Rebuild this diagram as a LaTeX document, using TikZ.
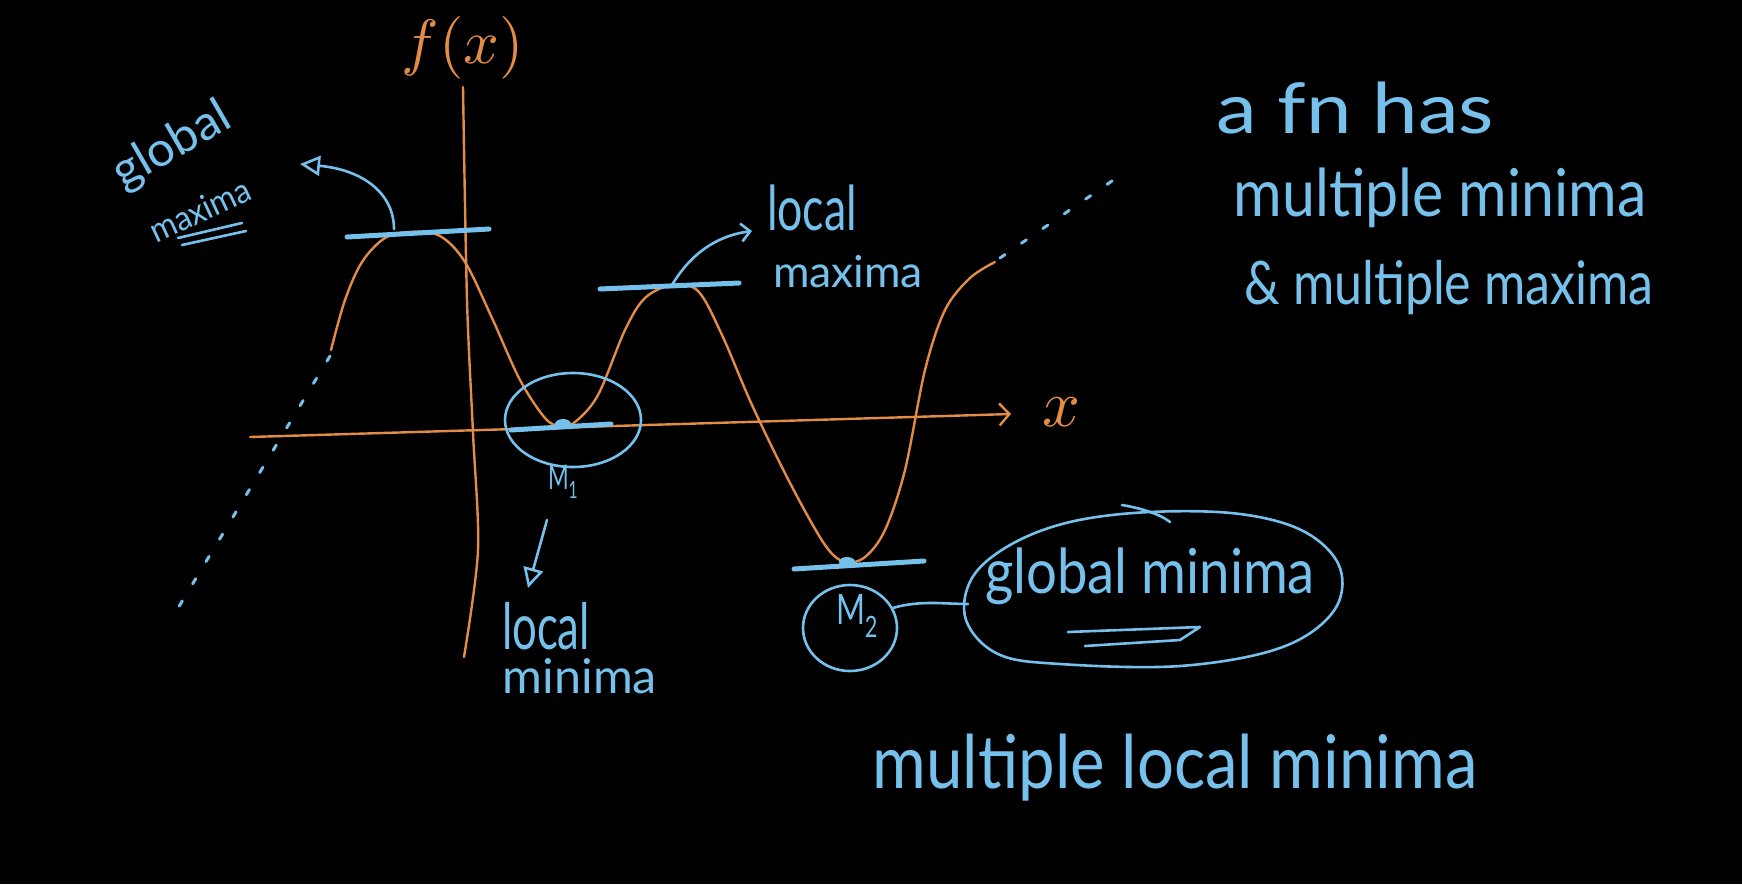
\documentclass[tikz,border=0pt]{standalone}
\usepackage{fontspec}
\setmainfont{Lato}
\usetikzlibrary{arrows.meta,shapes.geometric}
\definecolor{chalkblue}{RGB}{118,192,236}
\definecolor{chalkorange}{RGB}{226,140,70}
\newcommand\HWtext[3]{\resizebox{#1pt}{\height}{\fontsize{#2}{#2}\selectfont #3}}
\tikzset{
  orangeline/.style={draw=chalkorange, line width=2.4pt, line cap=round, line join=round},
  blueline/.style={draw=chalkblue, line width=2.6pt, line cap=round, line join=round},
  tangent/.style={draw=chalkblue, line width=5pt, line cap=round},
  bluetext/.style={text=chalkblue, inner sep=0pt},
  orangetext/.style={text=chalkorange, inner sep=0pt},
  dotline/.style={draw=chalkblue, line width=3pt, line cap=round, dash pattern=on 6pt off 20pt},
  openhead/.style={-{Triangle[open,length=20pt,width=20pt,line width=2.6pt]}},
  barbhead/.style={-{Straight Barb[length=9pt,width=18pt,line width=2.6pt]}}
}
\begin{document}
\begin{tikzpicture}[x=1pt,y=-1pt]
\fill[black] (0,0) rectangle (1742,884);
\useasboundingbox (0,0) rectangle (1742,884);

% axes
\draw[orangeline] plot[smooth] coordinates {(463,87) (467,300) (473,433) (478,550) (464,657)};
\coordinate (xstart) at (250,437);
\coordinate (xend) at (1011,414);
\draw[orangeline, -{Straight Barb[length=10pt,width=22pt,line width=2.4pt]}] (xstart) -- (xend);
\node[orangetext] (xlab) at (1061,412) {\resizebox{38pt}{!}{$x$}};
\node[orangetext] (fx) at (463,48) {\resizebox{122pt}{!}{$f(x)$}};

% function curve
\draw[orangeline] plot[smooth, tension=0.55] coordinates {
(331,350) (345,300) (362,262) (385,238) (411,232) (440,236) (465,262) (492,318)
(520,380) (545,418) (560,426) (575,422) (598,395) (625,330) (645,298) (672,285)
(698,291) (722,335) (752,405) (790,483) (825,545) (845,562) (865,557) (885,530)
(905,470) (925,370) (945,310) (970,278) (995,262)};

% dotted continuations
\coordinate (dl1) at (330,356);
\coordinate (dl2) at (172,618);
\coordinate (dr1) at (1000,258);
\coordinate (dr2) at (1125,172);
\draw[dotline] (dl1) -- (dl2);
\draw[dotline] (dr1) -- (dr2);

% global maximum
\coordinate (gm1) at (347,237);
\coordinate (gm2) at (489,229);
\draw[tangent] (gm1) -- (gm2);
\coordinate (gma) at (394,229);
\coordinate (gmb) at (300,164);
\draw[blueline, openhead] (gma) .. controls (394,195) and (365,170) .. (gmb);
\node[bluetext, rotate=30] (gmaxA) at (172,146) {\HWtext{128}{48}{global}};
\node[bluetext, rotate=25] (gmaxB) at (200,210) {\HWtext{108}{34}{maxima}};
\coordinate (u1a) at (178,238); \coordinate (u1b) at (242,223);
\coordinate (u2a) at (182,245); \coordinate (u2b) at (246,231);
\draw[blueline] (u1a) -- (u1b);
\draw[blueline] (u2a) -- (u2b);

% local maximum
\coordinate (lm1) at (600,289);
\coordinate (lm2) at (739,283);
\draw[tangent] (lm1) -- (lm2);
\coordinate (lma) at (672,285);
\coordinate (lmb) at (752,231);
\draw[blueline, barbhead] (lma) .. controls (690,255) and (715,236) .. (lmb);
\node[bluetext] (lmaxA) at (812,208) {\HWtext{90}{62}{local}};
\node[bluetext] (lmaxB) at (848,272) {\HWtext{150}{44}{maxima}};

% M1
\node[draw=chalkblue, line width=2.6pt, ellipse, minimum width=136pt, minimum height=94pt, inner sep=0pt] (m1circ) at (573,420) {};
\coordinate (t1a) at (511,430);
\coordinate (t1b) at (611,424);
\draw[tangent] (t1a) -- (t1b);
\fill[chalkblue] (563,424) ellipse (8pt and 5pt);
\node[bluetext] (m1lab) at (563,482) {\HWtext{30}{34}{M\textsubscript{1}}};
\coordinate (lmin1) at (547,520);
\coordinate (lmin2) at (528,588);
\draw[blueline, openhead] (lmin1) -- (lmin2);
\node[bluetext] (lminA) at (546,626) {\HWtext{88}{64}{local}};
\node[bluetext] (lminB) at (580,676) {\HWtext{154}{48}{minima}};

% M2
\coordinate (t2a) at (794,569);
\coordinate (t2b) at (924,561);
\draw[tangent] (t2a) -- (t2b);
\fill[chalkblue] (847,562) ellipse (8pt and 5pt);
\node[draw=chalkblue, line width=2.6pt, ellipse, minimum width=94pt, minimum height=86pt, inner sep=0pt] (m2circ) at (850,628) {};
\node[bluetext] (m2lab) at (857,616) {\HWtext{42}{42}{M\textsubscript{2}}};

% global minimum
\draw[blueline] plot[smooth cycle, tension=0.6] coordinates {
(1150,512) (1240,514) (1305,532) (1340,568) (1333,612) (1280,648) (1180,666)
(1060,664) (998,654) (966,620) (972,578) (1010,545) (1070,522)};
\draw[blueline] (1122,505) .. controls (1140,508) and (1160,514) .. (1170,522);
\coordinate (gminleft) at (968,604);
\node[bluetext] (gmin) at (1150,576) {\HWtext{330}{62}{global minima}};
\draw[blueline] (m2circ.25) .. controls (920,600) and (945,604) .. (gminleft);
\draw[blueline] (1068,632) -- (1200,627) -- (1180,640) -- (1085,646);

% right texts
\node[bluetext] (t1) at (1355,108) {\HWtext{278}{70}{a fn has}};
\node[bluetext] (t2) at (1440,198) {\HWtext{413}{66}{multiple minima}};
\node[bluetext] (t3) at (1449,288) {\HWtext{409}{60}{\& multiple maxima}};
\node[bluetext] (t4) at (1175,768) {\HWtext{605}{74}{multiple local minima}};
\end{tikzpicture}
\end{document}
